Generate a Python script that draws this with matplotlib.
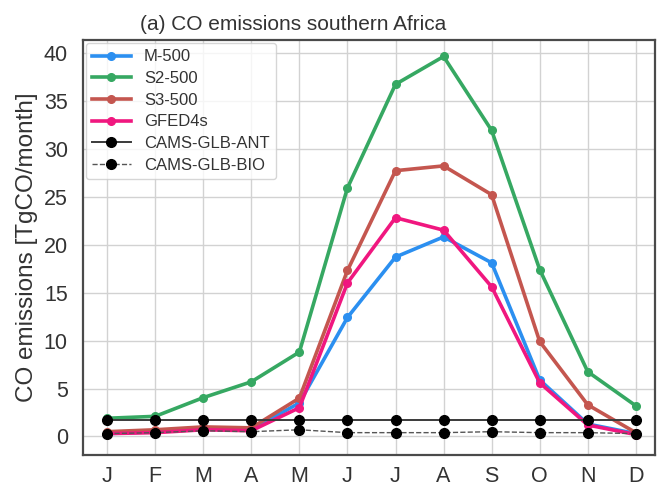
import matplotlib
matplotlib.use("Agg")
import matplotlib.pyplot as plt
import numpy as np

plt.rcParams["font.family"] = ["Liberation Sans", "DejaVu Sans"]

# Monthly CO emissions over southern Africa [TgCO/month]
mois = ["J", "F", "M", "A", "M", "J", "J", "A", "S", "O", "N", "D"]
m500 = [0.3, 0.5, 0.8, 0.7, 3.5, 12.4, 18.7, 20.8, 18.1, 5.9, 1.3, 0.3]
s2_500 = [1.9, 2.1, 4.05, 5.7, 8.8, 25.9, 36.7, 39.6, 31.9, 17.4, 6.75, 3.2]
s3_500 = [0.5, 0.7, 1.0, 0.9, 4.0, 17.3, 27.7, 28.2, 25.2, 9.9, 3.3, 0.4]
gfed4s = [0.3, 0.4, 0.7, 0.6, 3.0, 16.0, 22.8, 21.5, 15.6, 5.6, 1.2, 0.2]
cams_ant = [1.75, 1.75, 1.75, 1.75, 1.75, 1.75, 1.75, 1.75, 1.75, 1.75, 1.75, 1.75]
cams_bio = [0.3, 0.4, 0.6, 0.5, 0.7, 0.4, 0.4, 0.4, 0.5, 0.4, 0.4, 0.3]

x = np.arange(len(mois))

fig, ax = plt.subplots(figsize=(6.65, 4.9), dpi=100)
fig.subplots_adjust(left=0.125, right=0.985, top=0.918, bottom=0.072)

ax.plot(x, m500, "-o", color="#2b8ff0", lw=2.6, ms=5.5, label="M-500")
ax.plot(x, s2_500, "-o", color="#36a862", lw=2.6, ms=5.5, label="S2-500")
ax.plot(x, s3_500, "-o", color="#c4564f", lw=2.6, ms=5.5, label="S3-500")
ax.plot(x, gfed4s, "-o", color="#f0177f", lw=2.6, ms=5.5, label="GFED4s")
ax.plot(x, cams_ant, "-o", color="#3a3a3a", mfc="black", mec="black", lw=1.4, ms=7, label="CAMS-GLB-ANT")
ax.plot(x, cams_bio, "--o", color="#555555", mfc="black", mec="black", lw=1.0, ms=7, label="CAMS-GLB-BIO")

ax.set_xlim(-0.5, 11.4)
ax.set_ylim(-1.9, 41.3)
ax.set_xticks(x)
ax.set_xticklabels(mois)
ax.set_yticks(np.arange(0, 41, 5))
ax.tick_params(axis="both", labelsize=15.5, length=0, colors="#333333")
ax.tick_params(axis="x", pad=8)
ax.tick_params(axis="y", pad=11)

# grille fine
ax.set_axisbelow(True)
ax.grid(True, color="#d2d2d2", lw=1.0)
for s in ax.spines.values():
    s.set_color("#4a4a4a")
    s.set_linewidth(1.6)

ax.set_title("(a) CO emissions southern Africa", fontsize=15, color="#333333",
             x=0.367, pad=7)
ax.set_ylabel("CO emissions [TgCO/month]", fontsize=17.5, color="#333333", labelpad=4)

leg = ax.legend(loc="upper left", fontsize=12, frameon=True, borderaxespad=0.15,
                handlelength=2.3, labelspacing=0.4, fancybox=True)
leg.get_frame().set_edgecolor("#cccccc")
for t in leg.get_texts():
    t.set_color("#333333")

plt.savefig("out.png", dpi=100)
